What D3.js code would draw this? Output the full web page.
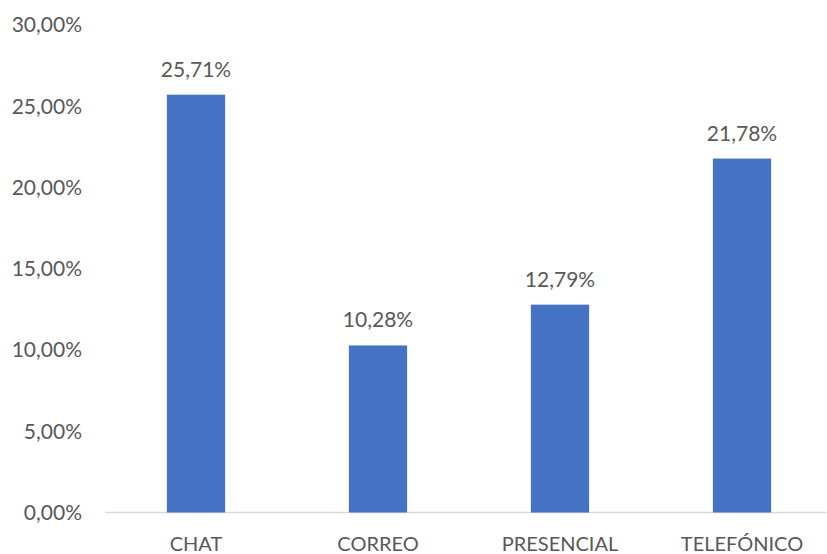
<!DOCTYPE html>
<html><head><meta charset="utf-8">
<script src="https://cdn.jsdelivr.net/npm/d3@7"></script>
<style>body{margin:0;background:#fff}text{font-family:Lato,"Open Sans",sans-serif;fill:#595959}</style>
</head><body><svg id="c" width="827" height="554"></svg>
<script>
const categories = ["CHAT","CORREO","PRESENCIAL","TELEFÓNICO"];
const values = [25.71,10.28,12.79,21.78];
const yTicks = [0,5,10,15,20,25,30];

const svg = d3.select("#c");
const fmt = v => v.toFixed(2).replace(".", ",") + "%";
const x = d3.scaleBand().domain(categories).range([105,833]).paddingInner(0.68).paddingOuter(0.34);
const y = d3.scaleLinear().domain([0,30]).range([512.5,25]);

svg.append("g").selectAll("text").data(yTicks).join("text")
  .attr("x",82).attr("y",d=>y(d)).attr("dy","0.35em").attr("text-anchor","end")
  .style("font-size","21px").text(fmt);

svg.append("line").attr("x1",105).attr("x2",826).attr("y1",y(0)).attr("y2",y(0))
  .attr("stroke","#d9d9d9").attr("stroke-width",1.5);

svg.append("g").selectAll("rect").data(values).join("rect")
  .attr("x",(d,i)=>x(categories[i])).attr("width",x.bandwidth())
  .attr("y",d=>y(d)).attr("height",d=>y(0)-y(d)).attr("fill","#4472c4");

svg.append("g").selectAll("text").data(values).join("text")
  .attr("x",(d,i)=>x(categories[i])+x.bandwidth()/2).attr("y",d=>y(d)-18)
  .attr("text-anchor","middle").style("font-size","21px").text(fmt);

svg.append("g").selectAll("text").data(categories).join("text")
  .attr("x",d=>x(d)+x.bandwidth()/2).attr("y",551).attr("text-anchor","middle")
  .style("font-size","20px").text(d=>d);
</script></body></html>
